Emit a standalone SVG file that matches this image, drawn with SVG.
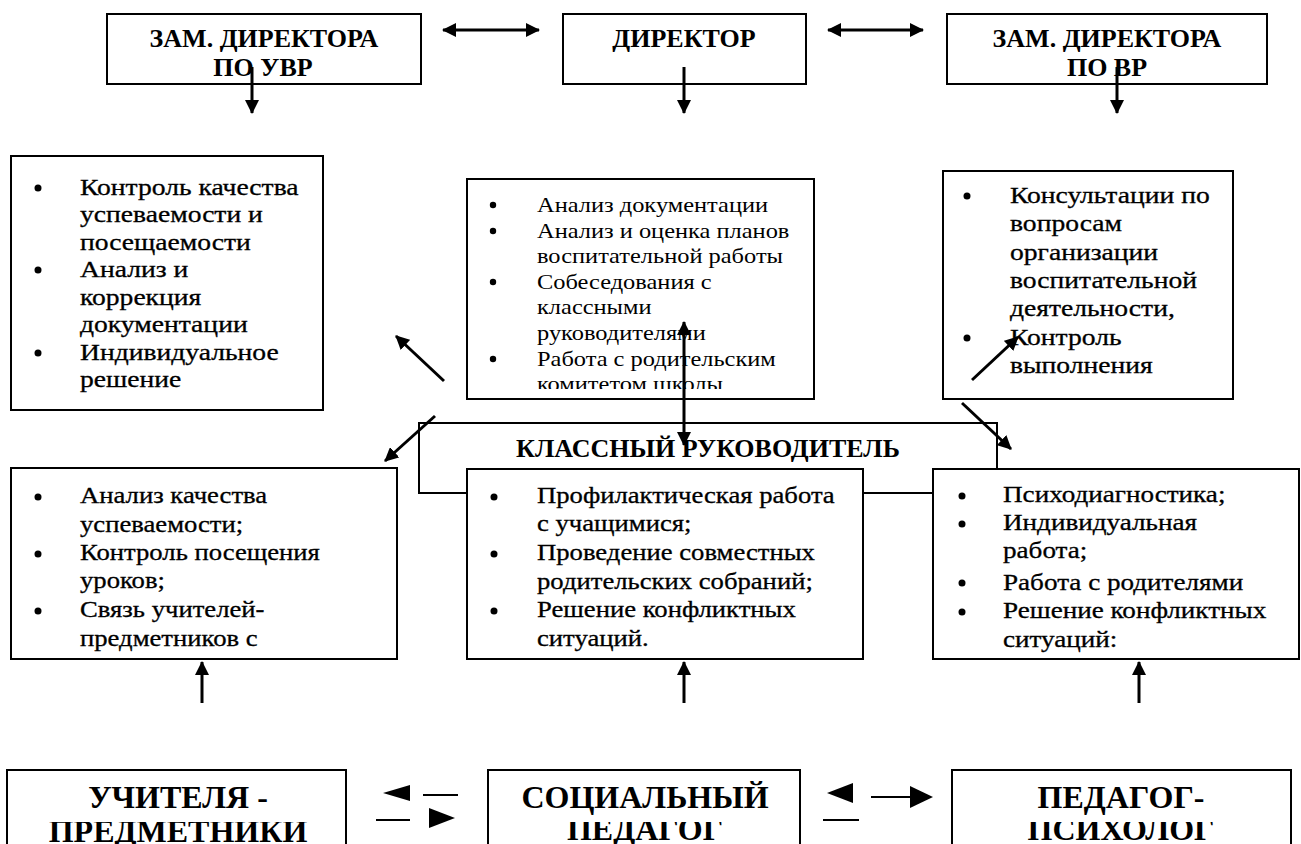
<svg xmlns="http://www.w3.org/2000/svg" width="1301" height="844" viewBox="0 0 1301 844" font-family="'Liberation Serif', 'DejaVu Serif', serif">
<style>
.box{fill:#fff;stroke:#000;stroke-width:2}
.hd{font-family:'Liberation Serif','DejaVu Serif',serif;font-weight:bold;font-size:26px;fill:#000;text-anchor:middle}
.bt{font-family:'Liberation Serif','DejaVu Serif',serif;font-size:32px;font-weight:bold;fill:#000;text-anchor:middle}
.tx{font-family:'Liberation Serif','DejaVu Serif',serif;font-size:23px;fill:#000;stroke:#000;stroke-width:0.3}
.tc{font-family:'Liberation Serif','DejaVu Serif',serif;font-size:22px;fill:#000}
.ln{fill:none;stroke:#000;stroke-width:2}
.ar{fill:none;stroke:#000;stroke-width:3}
.bl{fill:#000}
</style>
<defs>
<marker id="ah" viewBox="0 0 14 14" refX="13" refY="7" markerWidth="14" markerHeight="14" markerUnits="userSpaceOnUse" orient="auto-start-reverse">
<path d="M0,0 L14,7 L0,14 z" fill="#000"/>
</marker>
<clipPath id="cc"><rect x="468" y="180" width="345" height="209"/></clipPath>
<clipPath id="cb"><rect x="0" y="822" width="1301" height="30"/></clipPath>
</defs>
<rect width="1301" height="844" fill="#fff"/>

<g id="n-zam-uvr">
<rect class="box" x="107" y="14" width="314" height="70"/>
<text class="hd" x="264" y="47">ЗАМ. ДИРЕКТОРА</text>
<text class="hd" x="263" y="76">ПО УВР</text>
</g>
<g id="n-director">
<rect class="box" x="563" y="14" width="243" height="70"/>
<text class="hd" x="684" y="47">ДИРЕКТОР</text>
</g>
<g id="n-zam-vr">
<rect class="box" x="947" y="14" width="320" height="70"/>
<text class="hd" x="1107" y="47">ЗАМ. ДИРЕКТОРА</text>
<text class="hd" x="1107" y="76">ПО ВР</text>
</g>

<g id="n-uvr-tasks">
<rect class="box" x="11" y="156" width="312" height="254"/>
<circle class="bl" cx="38" cy="188" r="3.5"/>
<circle class="bl" cx="38" cy="270" r="3.5"/>
<circle class="bl" cx="38" cy="353" r="3.5"/>
<g transform="translate(80 0) scale(1.2 1)">
<text class="tx" x="0" y="195">Контроль качества</text>
<text class="tx" x="0" y="222">успеваемости и</text>
<text class="tx" x="0" y="250">посещаемости</text>
<text class="tx" x="0" y="277">Анализ и</text>
<text class="tx" x="0" y="305">коррекция</text>
<text class="tx" x="0" y="332">документации</text>
<text class="tx" x="0" y="360">Индивидуальное</text>
<text class="tx" x="0" y="387">решение</text>
</g>
</g>

<g id="n-dir-tasks">
<rect class="box" x="467" y="179" width="347" height="220"/>
<circle class="bl" cx="493" cy="205" r="3.2"/>
<circle class="bl" cx="493" cy="231" r="3.2"/>
<circle class="bl" cx="493" cy="282" r="3.2"/>
<circle class="bl" cx="493" cy="359" r="3.2"/>
<g clip-path="url(#cc)">
<g transform="translate(537 0) scale(1.11 1)">
<text class="tc" x="0" y="212">Анализ документации</text>
<text class="tc" x="0" y="238">Анализ и оценка планов</text>
<text class="tc" x="0" y="263">воспитательной работы</text>
<text class="tc" x="0" y="289">Собеседования с</text>
<text class="tc" x="0" y="314">классными</text>
<text class="tc" x="0" y="340">руководителями</text>
<text class="tc" x="0" y="366">Работа с родительским</text>
<text class="tc" x="0" y="391">комитетом школы</text>
</g>
</g>
</g>

<g id="n-vr-tasks">
<rect class="box" x="943" y="171" width="290" height="228"/>
<circle class="bl" cx="967" cy="196" r="3.5"/>
<circle class="bl" cx="967" cy="338" r="3.5"/>
<g transform="translate(1010 0) scale(1.2 1)">
<text class="tx" x="0" y="203">Консультации по</text>
<text class="tx" x="0" y="231">вопросам</text>
<text class="tx" x="0" y="260">организации</text>
<text class="tx" x="0" y="288">воспитательной</text>
<text class="tx" x="0" y="316">деятельности,</text>
<text class="tx" x="0" y="345">Контроль</text>
<text class="tx" x="0" y="373">выполнения</text>
</g>
</g>

<g id="n-class-teacher">
<path class="ln" d="M467,493 H419 V423 H997 V469"/>
<path class="ln" d="M863,493 H933"/>
<text class="hd" x="708" y="457">КЛАССНЫЙ РУКОВОДИТЕЛЬ</text>
</g>

<g id="n-subj-tasks">
<rect class="box" x="11" y="468" width="386" height="191"/>
<circle class="bl" cx="38" cy="497" r="3.5"/>
<circle class="bl" cx="38" cy="554" r="3.5"/>
<circle class="bl" cx="38" cy="611" r="3.5"/>
<g transform="translate(80 0) scale(1.16 1)">
<text class="tx" x="0" y="503">Анализ качества</text>
<text class="tx" x="0" y="532">успеваемости;</text>
<text class="tx" x="0" y="560">Контроль посещения</text>
<text class="tx" x="0" y="588">уроков;</text>
<text class="tx" x="0" y="617">Связь учителей-</text>
<text class="tx" x="0" y="646">предметников с</text>
</g>
</g>

<g id="n-class-tasks">
<rect class="box" x="467" y="469" width="396" height="190"/>
<circle class="bl" cx="494" cy="497" r="3.5"/>
<circle class="bl" cx="494" cy="554" r="3.5"/>
<circle class="bl" cx="494" cy="611" r="3.5"/>
<g transform="translate(537 0) scale(1.16 1)">
<text class="tx" x="0" y="503">Профилактическая работа</text>
<text class="tx" x="0" y="531">с учащимися;</text>
<text class="tx" x="0" y="560">Проведение совместных</text>
<text class="tx" x="0" y="589">родительских собраний;</text>
<text class="tx" x="0" y="617">Решение конфликтных</text>
<text class="tx" x="0" y="646">ситуаций.</text>
</g>
</g>

<g id="n-psy-tasks">
<rect class="box" x="933" y="469" width="366" height="190"/>
<circle class="bl" cx="962" cy="496" r="3.5"/>
<circle class="bl" cx="962" cy="524" r="3.5"/>
<circle class="bl" cx="962" cy="583" r="3.5"/>
<circle class="bl" cx="962" cy="612" r="3.5"/>
<g transform="translate(1003 0) scale(1.18 1)">
<text class="tx" x="0" y="502">Психодиагностика;</text>
<text class="tx" x="0" y="530">Индивидуальная</text>
<text class="tx" x="0" y="558">работа;</text>
<text class="tx" x="0" y="590">Работа с родителями</text>
<text class="tx" x="0" y="618">Решение конфликтных</text>
<text class="tx" x="0" y="647">ситуаций:</text>
</g>
</g>

<g id="n-teachers">
<rect class="box" x="7" y="770" width="339" height="90"/>
<text class="bt" x="178" y="808">УЧИТЕЛЯ -</text>
<text class="bt" x="178" y="842" clip-path="url(#cb)">ПРЕДМЕТНИКИ</text>
</g>
<g id="n-social">
<rect class="box" x="488" y="770" width="312" height="90"/>
<text class="bt" x="645" y="808">СОЦИАЛЬНЫЙ</text>
<text class="bt" x="645" y="840" clip-path="url(#cb)">ПЕДАГОГ</text>
</g>
<g id="n-psychologist">
<rect class="box" x="952" y="770" width="339" height="90"/>
<text class="bt" x="1121" y="808">ПЕДАГОГ-</text>
<text class="bt" x="1121" y="840" clip-path="url(#cb)">ПСИХОЛОГ</text>
</g>

<g id="connectors">
<line class="ar" x1="443" y1="30" x2="539" y2="30" marker-start="url(#ah)" marker-end="url(#ah)"/>
<line class="ar" x1="828" y1="30" x2="923" y2="30" marker-start="url(#ah)" marker-end="url(#ah)"/>
<line class="ar" x1="252" y1="67" x2="252" y2="113" marker-end="url(#ah)"/>
<line class="ar" x1="684" y1="67" x2="684" y2="113" marker-end="url(#ah)"/>
<line class="ar" x1="1117" y1="67" x2="1117" y2="113" marker-end="url(#ah)"/>
<line class="ar" x1="684" y1="322" x2="684" y2="445" marker-start="url(#ah)" marker-end="url(#ah)"/>
<line class="ar" x1="444" y1="381" x2="396" y2="336" marker-end="url(#ah)"/>
<line class="ar" x1="435" y1="416" x2="385" y2="461" marker-end="url(#ah)"/>
<line class="ar" x1="972" y1="380" x2="1018" y2="337" marker-end="url(#ah)"/>
<line class="ar" x1="962" y1="403" x2="1011" y2="449" marker-end="url(#ah)"/>
<line class="ar" x1="202" y1="703" x2="202" y2="662" marker-end="url(#ah)"/>
<line class="ar" x1="684" y1="703" x2="684" y2="662" marker-end="url(#ah)"/>
<line class="ar" x1="1139" y1="703" x2="1139" y2="662" marker-end="url(#ah)"/>
<path class="bl" d="M383,793 L410,785 L410,801 z"/>
<line class="ln" x1="376" y1="820" x2="410" y2="820"/>
<line class="ln" x1="423" y1="795" x2="458" y2="795"/>
<path class="bl" d="M455,818 L429,808 L429,828 z"/>
<path class="bl" d="M827,793 L853,783 L853,803 z"/>
<line class="ln" x1="823" y1="820" x2="859" y2="820"/>
<line class="ln" x1="871" y1="797" x2="910" y2="797"/>
<path class="bl" d="M933,797 L910,786 L910,808 z"/>
</g>
</svg>
